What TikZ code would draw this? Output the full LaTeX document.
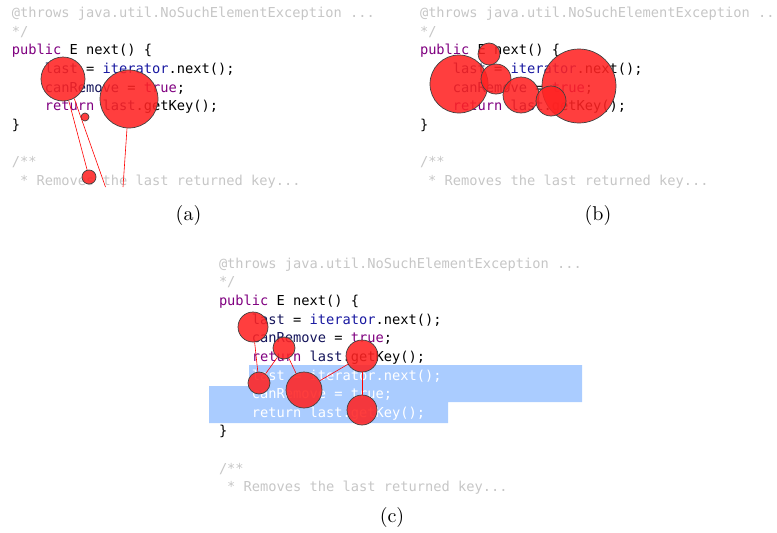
\documentclass[tikz,border=0pt]{standalone}
\usepackage{fontspec}
\setmonofont{DejaVu Sans Mono}
\definecolor{cmt}{RGB}{198,198,198}
\definecolor{kw}{RGB}{128,0,128}
\definecolor{fld}{RGB}{24,24,160}
\definecolor{fldd}{RGB}{20,20,90}
\definecolor{sel}{RGB}{170,204,255}
\definecolor{bub}{RGB}{255,35,35}
\def\cw{8.24}
\def\ls{18.67}
\tikzset{
  code/.style={anchor=base west, inner sep=0pt, outer sep=0pt,
    font=\ttfamily\fontsize{13.7}{16}\selectfont},
  bubble/.style={circle, draw=black!75, line width=0.7pt, fill=bub,
    fill opacity=0.88, inner sep=0pt, minimum size=#1},
  link/.style={red, line width=0.6pt},
  caption/.style={anchor=base, inner sep=0pt, scale=2,
    font=\fontsize{10}{12}\selectfont},
  selection/.style={fill=sel, draw=none}
}
\begin{document}
\begin{tikzpicture}[x=1pt, y=-1pt]
\useasboundingbox (0,0) rectangle (777,533);

% ---------- panel (a) ----------
\begin{scope}[shift={(12,17.5)}]
  \node[code, text=cmt] (a0) at (0,0) {@throws java.util.NoSuchElementException ...};
  \node[code, text=cmt] (a1) at (0,{\ls}) {*/};
  \node[code] (a2) at (0,{2*\ls}) {{\color{kw}public} E next() \{};
  \node[code] (a3) at ({4*\cw},{3*\ls}) {{\color{fldd}last} = {\color{fld}iterator}.next();};
  \node[code] (a4) at ({4*\cw},{4*\ls}) {{\color{fldd}canRemove} = {\color{kw}true};};
  \node[code] (a5) at ({4*\cw},{5*\ls}) {{\color{kw}return} {\color{fldd}last}.getKey();};
  \node[code] (a6) at (0,{6*\ls}) {\}};
  \node[code, text=cmt] (a8) at (0,{8*\ls}) {/**};
  \node[code, text=cmt] (a9) at ({\cw},{9*\ls}) {* Removes the last returned key...};
\end{scope}
\coordinate (ea1) at (105.5,187);
\coordinate (ea2) at (123,187);
\node[bubble=44pt] (pa1) at (63,79) {};
\node[bubble=58pt] (pa2) at (129,99) {};
\node[bubble=8pt] (pa3) at (85,117) {};
\node[bubble=14pt] (pa4) at (89,177) {};
\draw[link] (pa1) -- (pa4);
\draw[link] (pa1.-60) -- (ea1);
\draw[link] (pa2) -- (ea2);
\node[caption] (capa) at (188.5,220) {(a)};

% ---------- panel (b) ----------
\begin{scope}[shift={(420,17.5)}]
  \node[code, text=cmt] (b0) at (0,0) {@throws java.util.NoSuchElementException ...};
  \node[code, text=cmt] (b1) at (0,{\ls}) {*/};
  \node[code] (b2) at (0,{2*\ls}) {{\color{kw}public} E next() \{};
  \node[code] (b3) at ({4*\cw},{3*\ls}) {{\color{fldd}last} = {\color{fld}iterator}.next();};
  \node[code] (b4) at ({4*\cw},{4*\ls}) {{\color{fldd}canRemove} = {\color{kw}true};};
  \node[code] (b5) at ({4*\cw},{5*\ls}) {{\color{kw}return} {\color{fldd}last}.getKey();};
  \node[code] (b6) at (0,{6*\ls}) {\}};
  \node[code, text=cmt] (b8) at (0,{8*\ls}) {/**};
  \node[code, text=cmt] (b9) at ({\cw},{9*\ls}) {* Removes the last returned key...};
\end{scope}
\node[bubble=58pt] (pb2) at (459,84) {};
\node[bubble=30pt] (pb3) at (496,79) {};
\node[bubble=36pt] (pb4) at (521,95) {};
\node[bubble=22pt] (pb1) at (489,54) {};
\node[bubble=74pt] (pb5) at (579,86) {};
\node[bubble=30pt] (pb6) at (551,101) {};
\node[caption] (capb) at (598,220) {(b)};

% ---------- panel (c) ----------
\path[selection] (249,365) -- (582,365) -- (582,402) -- (448,402)
  -- (448,423) -- (209,423) -- (209,386) -- (249,386) -- cycle;
\begin{scope}[shift={(219,268.3)}]
  \def\ls{18.62}
  \node[code, text=cmt] (c0) at (0,0) {@throws java.util.NoSuchElementException ...};
  \node[code, text=cmt] (c1) at (0,{\ls}) {*/};
  \node[code] (c2) at (0,{2*\ls}) {{\color{kw}public} E next() \{};
  \node[code] (c3) at ({4*\cw},{3*\ls}) {{\color{fldd}last} = {\color{fld}iterator}.next();};
  \node[code] (c4) at ({4*\cw},{4*\ls}) {{\color{fldd}canRemove} = {\color{kw}true};};
  \node[code] (c5) at ({4*\cw},{5*\ls}) {{\color{kw}return} {\color{fldd}last}.getKey();};
  \node[code, text=white] (c6) at ({4*\cw},{6*\ls}) {last = iterator.next();};
  \node[code, text=white] (c7) at ({4*\cw},{7*\ls}) {canRemove = true;};
  \node[code, text=white] (c8) at ({4*\cw},{8*\ls}) {return last.getKey();};
  \node[code] (c9) at (0,{9*\ls}) {\}};
  \node[code, text=cmt] (c11) at (0,{11*\ls}) {/**};
  \node[code, text=cmt] (c12) at ({\cw},{12*\ls}) {* Removes the last returned key...};
\end{scope}
\node[bubble=30pt] (pc1) at (253,327) {};
\node[bubble=22pt] (pc2) at (284,348) {};
\node[bubble=22pt] (pc3) at (259,383) {};
\node[bubble=36pt] (pc4) at (304,390) {};
\node[bubble=32pt] (pc5) at (362,356) {};
\node[bubble=30pt] (pc6) at (362,410) {};
\draw[link] (pc1) -- (pc3);
\draw[link] (pc2) -- (pc3);
\draw[link] (pc2) -- (pc4);
\draw[link] (pc4) -- (pc5);
\draw[link] (pc5) -- (pc6);
\node[caption] (capc) at (392,522) {(c)};
\end{tikzpicture}
\end{document}
